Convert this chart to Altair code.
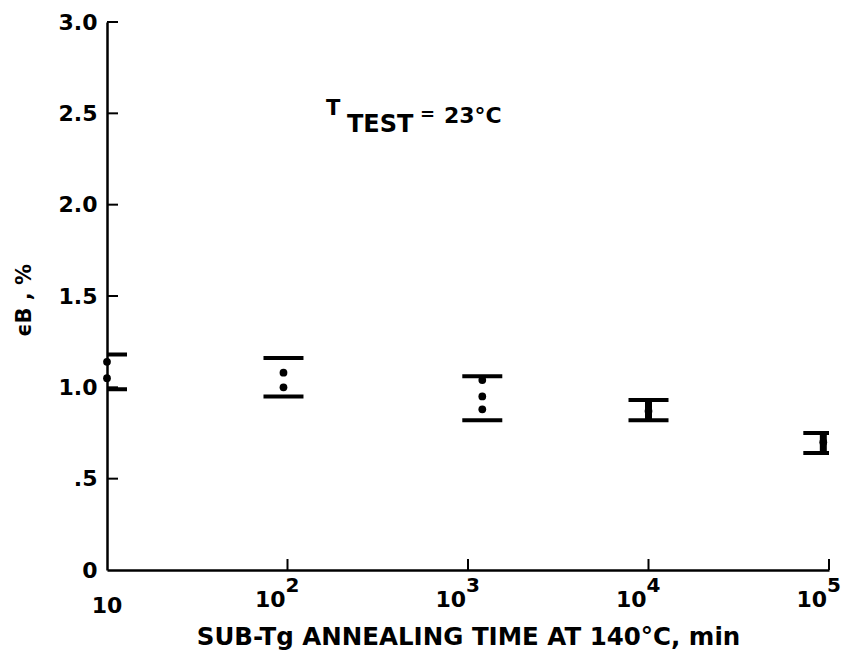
import altair as alt
import pandas as pd

# ---- data ----
time_min = [10, 95, 1200, 10000, 93000]
upper = [1.18, 1.16, 1.06, 0.93, 0.75]
lower = [0.99, 0.95, 0.82, 0.82, 0.64]
solid = [False, False, False, True, True]

dot_time = [10, 10, 95, 95, 1200, 1200, 1200, 10000, 93000]
dot_val = [1.14, 1.05, 1.08, 1.00, 1.04, 0.95, 0.88, 0.87, 0.70]

x_ticks = [100, 1000, 10000, 100000]
x_base = ["10", "10", "10", "10"]
x_sup = ["2", "3", "4", "5"]
y_ticks = [0.5, 1.0, 1.5, 2.0, 2.5, 3.0]

W, H = 722, 548
FONT = "DejaVu Sans"

bars = pd.DataFrame({"t": time_min, "hi": upper, "lo": lower, "solid": solid})
dots = pd.DataFrame({"t": dot_time, "v": dot_val})
xt = pd.DataFrame({"t": x_ticks, "base": x_base, "sup": x_sup})
yt = pd.DataFrame({"v": y_ticks})

xs = alt.Scale(type="log", domain=[10, 100000], nice=False)
ys = alt.Scale(domain=[0, 3.0], nice=False, zero=False)

y_axis = alt.Axis(
    values=[0, 0.5, 1.0, 1.5, 2.0, 2.5, 3.0],
    labelExpr="datum.value == 0 ? '0' : datum.value == 0.5 ? '.5' : format(datum.value, '.1f')",
    ticks=False, grid=False, domainColor="black", domainWidth=2.5,
    labelFont=FONT, labelFontWeight="bold", labelFontSize=22, labelColor="black",
    labelPadding=10,
    title="ϵB , %", titleFont=FONT, titleFontWeight="bold", titleFontSize=21,
    titleColor="black", titlePadding=24, titleY=278,
)
x_axis = alt.Axis(
    values=[10, 100, 1000, 10000, 100000], labels=False, ticks=False, grid=False,
    domainColor="black", domainWidth=2.5,
    title="SUB-Tg ANNEALING TIME AT 140°C, min", titleFont=FONT,
    titleFontWeight="bold", titleFontSize=24.5, titleColor="black", titlePadding=55,
)

base = alt.Chart(bars)
tick_style = dict(orient="horizontal", size=40, thickness=4, color="black", opacity=1, clip=True)

caps_hi = base.mark_tick(**tick_style).encode(
    x=alt.X("t:Q", scale=xs, axis=x_axis),
    y=alt.Y("hi:Q", scale=ys, axis=y_axis),
)
caps_lo = base.mark_tick(**tick_style).encode(
    x=alt.X("t:Q", scale=xs), y=alt.Y("lo:Q", scale=ys),
)
stems = base.transform_filter("datum.solid").mark_rule(strokeWidth=7, color="black").encode(
    x=alt.X("t:Q", scale=xs), y=alt.Y("lo:Q", scale=ys), y2="hi:Q",
)
pts = alt.Chart(dots).mark_circle(size=60, color="black", opacity=1).encode(
    x=alt.X("t:Q", scale=xs), y=alt.Y("v:Q", scale=ys),
)

ytick_marks = alt.Chart(yt).mark_rule(color="black", strokeWidth=2).encode(
    y=alt.Y("v:Q", scale=ys), x=alt.value(0), x2=alt.value(11),
)
xtick_marks = alt.Chart(xt).mark_rule(color="black", strokeWidth=2).encode(
    x=alt.X("t:Q", scale=xs), y=alt.value(H), y2=alt.value(H - 11),
)
x_lab10 = alt.Chart(pd.DataFrame({"t": [10], "base": ["10"]})).mark_text(
    font=FONT, fontWeight="bold", fontSize=22, color="black", align="center", baseline="alphabetic"
).encode(x=alt.X("t:Q", scale=xs), y=alt.value(H + 43), text="base:N")
x_labbase = alt.Chart(xt).mark_text(
    font=FONT, fontWeight="bold", fontSize=22, color="black", align="right", baseline="alphabetic", dx=-2
).encode(x=alt.X("t:Q", scale=xs), y=alt.value(H + 37), text="base:N")
x_labsup = alt.Chart(xt).mark_text(
    font=FONT, fontWeight="bold", fontSize=20, color="black", align="left", baseline="alphabetic", dx=-2
).encode(x=alt.X("t:Q", scale=xs), y=alt.value(H + 22), text="sup:N")

ann_T = alt.Chart(pd.DataFrame({"s": ["T"]})).mark_text(
    font=FONT, fontWeight="bold", fontSize=21, color="black", align="left", baseline="alphabetic"
).encode(x=alt.value(219), y=alt.value(93), text="s:N")
ann_sub = alt.Chart(pd.DataFrame({"s": ["TEST"]})).mark_text(
    font=FONT, fontWeight="bold", fontSize=24, color="black", align="left", baseline="alphabetic"
).encode(x=alt.value(240), y=alt.value(110), text="s:N")
ann_eq = alt.Chart(pd.DataFrame({"s": ["="]})).mark_text(
    font=FONT, fontWeight="bold", fontSize=18, color="black", align="left", baseline="middle"
).encode(x=alt.value(313), y=alt.value(93), text="s:N")
ann_rest = alt.Chart(pd.DataFrame({"s": ["23°C"]})).mark_text(
    font=FONT, fontWeight="bold", fontSize=22, color="black", align="left", baseline="alphabetic"
).encode(x=alt.value(337), y=alt.value(101), text="s:N")

chart = alt.layer(
    caps_hi, caps_lo, stems, pts, ytick_marks, xtick_marks,
    x_lab10, x_labbase, x_labsup, ann_T, ann_sub, ann_eq, ann_rest,
).properties(
    width=W, height=H,
    autosize=alt.AutoSizeParams(type="none"),
    padding={"left": 99, "top": 14, "right": 14, "bottom": 80},
    background="white",
).configure_view(stroke=None)

chart.save("out.html", embed_options={"renderer": "svg", "actions": False})
